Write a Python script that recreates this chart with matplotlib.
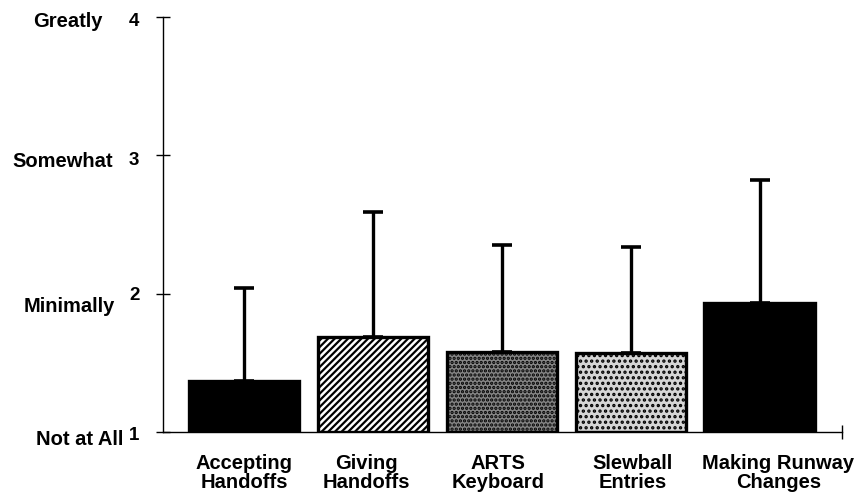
import matplotlib
matplotlib.use("Agg")
import matplotlib.pyplot as plt
import matplotlib.transforms as mtransforms

categories = ["Accepting\nHandoffs", "Giving\nHandoffs", "ARTS\nKeyboard", "Slewball\nEntries", "Making Runway\nChanges"]
means = [1.37, 1.69, 1.58, 1.57, 1.93]
err_top = [2.04, 2.59, 2.35, 2.34, 2.82]
ytick_vals = [1, 2, 3, 4]
ytick_words = ["Not at All", "Minimally", "Somewhat", "Greatly"]

plt.rcParams['font.family'] = ['Liberation Sans', 'DejaVu Sans']
plt.rcParams['hatch.linewidth'] = 1.6

W, H = 859, 496
fig = plt.figure(figsize=(W/100, H/100), dpi=100)
ax = fig.add_axes([163/W, 1-432/H, (842-163)/W, (432-17)/H])

x = list(range(len(categories)))
faces = ["black", "white", "#858585", "#d6d6d6", "black"]
hatches = [None, "/////", "....", "...", None]
base = 1.0
heights = [m - base for m in means]
bars = ax.bar(x, heights, bottom=base, width=0.855, color=faces, edgecolor="black", linewidth=2.4, zorder=2)
for b, h in zip(bars, hatches):
    if h:
        b.set_hatch(h)

yerr = [[0]*len(means), [t - m for t, m in zip(err_top, means)]]
ax.errorbar(x, means, yerr=yerr, fmt="none", ecolor="black", elinewidth=2.4, capsize=7, capthick=2.6, zorder=1)

ax.set_xlim(-0.63, 4.64)
ax.set_ylim(1, 4)
ax.spines['top'].set_visible(False)
ax.spines['right'].set_visible(False)
ax.spines['left'].set_linewidth(1.0)
ax.spines['bottom'].set_linewidth(1.0)

ax.set_yticks(ytick_vals)
ax.set_yticklabels([str(v) for v in ytick_vals], fontsize=13.5, fontweight='bold')
ax.tick_params(axis='y', direction='inout', length=10, width=1.0, pad=12)
digit_dy_px = [-2, 0, -3, -2]
for tick, dy in zip(ax.yaxis.get_major_ticks(), digit_dy_px):
    tick.label1.set_transform(tick.label1.get_transform() + mtransforms.ScaledTranslation(0, dy/100, fig.dpi_scale_trans))

ax.set_xticks(x)
ax.set_xticklabels(categories, fontsize=14.5, fontweight='bold', linespacing=1.0)
ax.tick_params(axis='x', length=0, pad=16)
xlabel_dx_px = [0, -7, -4, 2, 19]
for tick, dx in zip(ax.xaxis.get_major_ticks(), xlabel_dx_px):
    tick.label1.set_transform(tick.label1.get_transform() + mtransforms.ScaledTranslation(dx/100, 0, fig.dpi_scale_trans))

# right-end tick on the baseline
ax.plot([4.64], [1], marker='|', color='black', markersize=10, clip_on=False)

word_xend = [123, 115, 113, 103]
word_base = [445, 312, 167, 27]
for w, xe, yb in zip(ytick_words, word_xend, word_base):
    fig.text(xe/W, 1 - yb/H, w, ha='right', va='baseline', fontsize=14.5, fontweight='bold')

fig.savefig("out.png", dpi=100)
